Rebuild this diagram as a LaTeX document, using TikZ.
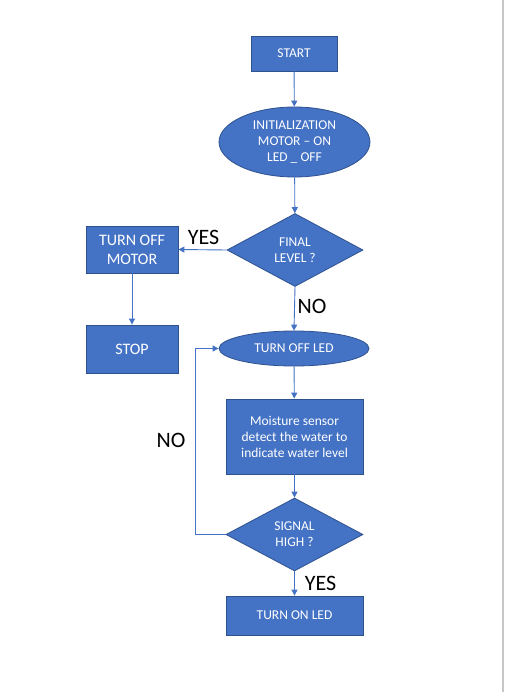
\documentclass[tikz,border=0pt]{standalone}
\usepackage{fontspec}
\setmainfont{Carlito}
\usetikzlibrary{shapes.geometric,arrows.meta}
\definecolor{fillblue}{HTML}{4472C4}
\definecolor{edgeblue}{HTML}{2F528F}
\begin{document}
\begin{tikzpicture}[x=1pt,y=-1pt,
  base/.style={fill=fillblue,draw=edgeblue,line width=0.8pt,text=white,inner sep=0pt,align=center,font=\fontsize{13.5}{16}\selectfont},
  box/.style={base,rectangle},
  bigbox/.style={box,font=\fontsize{16}{19}\selectfont},
  oval/.style={base,ellipse},
  dia/.style={base,diamond,aspect=1.87},
  conn/.style={draw=fillblue,line width=0.9pt,-{Triangle[width=6pt,length=6pt]}},
  lab/.style={font=\fontsize{22}{26}\selectfont,text=black,inner sep=0pt}]
\useasboundingbox (0,0) rectangle (505,692);
\fill[white] (0,0) rectangle (505,692);
\draw[black!22,line width=1.6pt] (503.2,0) -- (503.2,692);

\node[box,minimum width=86pt,minimum height=35pt] (start) at (294,53.5) {START};
\node[oval,minimum width=151pt,minimum height=70pt] (init) at (294.5,142) {INITIALIZATION\\MOTOR -- ON\\LED \_ OFF};
\node[dia,minimum width=136pt,minimum height=73pt] (final) at (295,250) {FINAL\\LEVEL ?};
\node[bigbox,minimum width=92pt,minimum height=47pt] (motor) at (132,249.5) {TURN OFF\\MOTOR};
\node[bigbox,minimum width=92pt,minimum height=48pt] (stop) at (132,349) {STOP};
\node[oval,minimum width=150pt,minimum height=35pt] (led) at (294,348.5) {TURN OFF LED};
\node[box,minimum width=137pt,minimum height=75pt] (moist) at (294.5,436.5) {Moisture sensor\\detect the water to\\indicate water level};
\node[dia,minimum width=137pt,minimum height=73pt] (signal) at (294.5,534.5) {SIGNAL\\HIGH ?};
\node[box,minimum width=137pt,minimum height=39pt] (on) at (294.5,615.5) {TURN ON LED};

\coordinate (loopx) at (195,534.5);

\draw[conn] (start) -- (init);
\draw[conn] (init) -- (final);
\draw[conn] (final.west) -- (motor.east);
\draw[conn] (motor) -- (stop);
\draw[conn] (final.south) -- (led.north);
\draw[conn] (led) -- (moist);
\draw[conn] (moist) -- (signal);
\draw[conn] (signal.south) -- (on.north);
\draw[conn] (signal.west) -- (loopx) |- (led.west);

\node[lab] (yes1) at (203.5,237) {YES};
\node[lab] (no1) at (312,306) {NO};
\node[lab] (no2) at (171,440.5) {NO};
\node[lab] (yes2) at (320.5,583.5) {YES};
\end{tikzpicture}
\end{document}
